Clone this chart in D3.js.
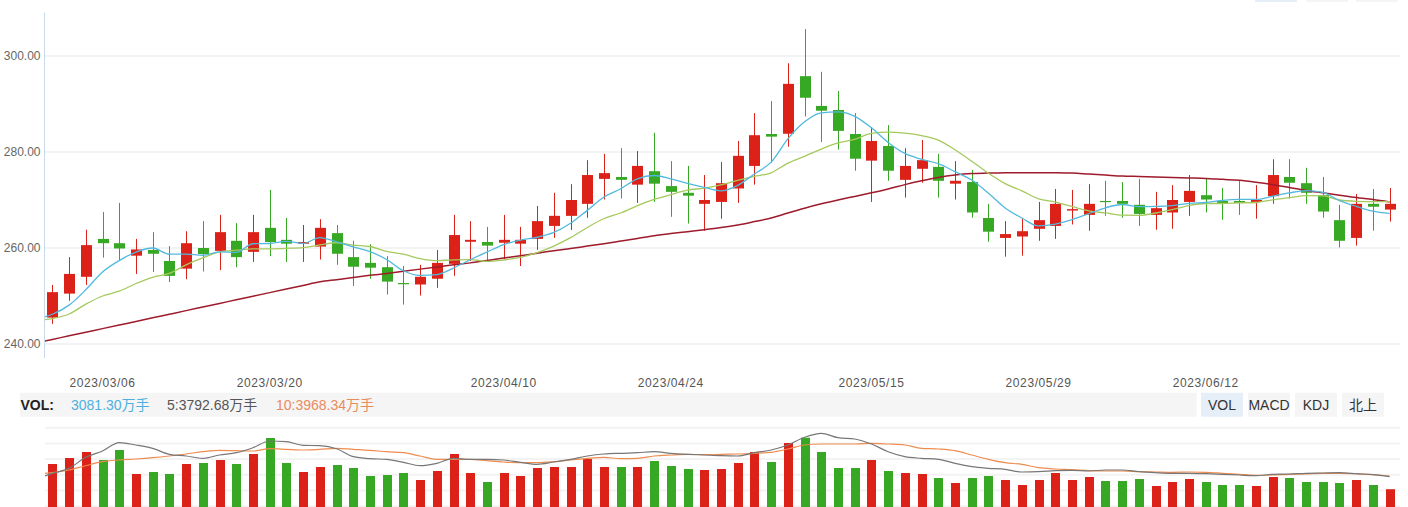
<!DOCTYPE html>
<html><head><meta charset="utf-8">
<script src="https://cdn.jsdelivr.net/npm/d3@7"></script>
<style>html,body{margin:0;padding:0;background:#fff;overflow:hidden}svg{display:block}</style>
</head><body><svg id="c" width="1408" height="507"></svg>
<script>
const dates = ["2023/03/01","2023/03/02","2023/03/03","2023/03/06","2023/03/07","2023/03/08","2023/03/09","2023/03/10","2023/03/13","2023/03/14","2023/03/15","2023/03/16","2023/03/17","2023/03/20","2023/03/21","2023/03/22","2023/03/23","2023/03/24","2023/03/27","2023/03/28","2023/03/29","2023/03/30","2023/03/31","2023/04/03","2023/04/04","2023/04/06","2023/04/07","2023/04/10","2023/04/11","2023/04/12","2023/04/13","2023/04/14","2023/04/17","2023/04/18","2023/04/19","2023/04/20","2023/04/21","2023/04/24","2023/04/25","2023/04/26","2023/04/27","2023/04/28","2023/05/04","2023/05/05","2023/05/08","2023/05/09","2023/05/10","2023/05/11","2023/05/12","2023/05/15","2023/05/16","2023/05/17","2023/05/18","2023/05/19","2023/05/22","2023/05/23","2023/05/24","2023/05/25","2023/05/26","2023/05/29","2023/05/30","2023/05/31","2023/06/01","2023/06/02","2023/06/05","2023/06/06","2023/06/07","2023/06/08","2023/06/09","2023/06/12","2023/06/13","2023/06/14","2023/06/15","2023/06/16","2023/06/19","2023/06/20","2023/06/21","2023/06/26","2023/06/27","2023/06/28","2023/06/29"];
const tickDates = ["2023/03/06","2023/03/20","2023/04/10","2023/04/24","2023/05/15","2023/05/29","2023/06/12"];
const priceTicks = [240, 260, 280, 300];
const volTicks = [2000, 3000, 4000, 5000, 6000, 7000];

const open = [245.5,250.5,254.0,261.9,261.0,258.4,259.6,257.3,255.7,260.0,259.4,261.5,259.2,264.2,261.7,260.9,260.3,263.1,258.1,256.9,256.0,252.7,252.4,253.6,256.7,261.3,261.25,261.1,260.9,261.9,264.6,266.7,269.2,274.4,274.8,273.2,276.0,272.9,271.5,269.2,269.6,272.4,277.1,283.75,283.8,295.8,289.6,288.75,283.75,278.2,281.25,274.2,276.5,276.9,273.4,273.75,266.25,262.1,262.4,264.0,264.6,267.8,266.9,269.8,269.8,269.0,266.9,267.4,269.6,271.0,269.8,269.8,269.6,270.8,274.8,273.5,271.0,265.8,262.1,269.2,268.0];
const close = [250.8,254.6,260.6,261.0,259.9,259.7,258.8,254.2,261.0,258.75,263.3,258.1,263.3,261.25,260.9,261.25,264.2,258.8,256.1,255.9,253.0,252.5,254.0,256.9,262.7,261.7,260.5,261.7,261.7,265.6,266.7,270.0,275.2,275.6,274.2,277.1,273.4,271.7,270.9,270.0,273.5,279.2,283.5,283.2,294.2,291.3,288.6,284.4,278.6,282.3,276.1,277.1,278.3,274.0,274.0,267.4,263.4,262.9,263.5,265.8,269.2,268.1,269.2,269.6,269.2,267.1,268.3,270.0,271.9,270.1,269.2,269.4,270.0,275.2,273.6,271.5,267.6,261.5,269.2,268.6,269.2];
const high = [252.3,258.1,263.8,267.5,269.4,261.9,263.3,260.4,263.5,265.6,266.9,265.2,266.9,272.1,266.25,264.8,266.0,264.8,261.5,260.8,258.3,256.25,256.5,259.6,266.9,265.6,264.4,266.9,264.4,268.75,271.5,273.3,278.3,279.6,280.8,280.2,284.0,278.1,277.1,275.2,277.9,282.3,288.1,290.6,298.5,305.6,296.7,292.7,288.1,285.2,285.6,280.8,282.5,279.6,278.1,276.25,269.2,265.6,266.25,269.6,272.3,272.1,273.3,274.0,273.75,274.4,271.7,273.1,275.2,274.4,272.5,274.0,273.1,278.5,278.5,276.7,274.8,269.0,271.25,272.3,272.5];
const low = [244.2,249.0,252.3,258.0,257.5,254.6,255.0,252.9,253.5,255.1,255.4,256.0,257.1,258.3,257.1,257.1,257.6,256.5,252.1,253.6,250.3,248.2,250.1,251.7,254.2,257.3,257.5,257.7,256.25,259.6,262.1,263.75,266.3,270.1,270.3,269.4,269.6,266.5,265.1,263.6,266.1,269.4,273.2,277.8,281.1,287.4,282.1,280.5,276.1,269.6,274.0,270.5,273.6,270.5,270.1,266.3,261.3,258.2,258.4,261.5,261.9,264.9,263.6,266.7,266.3,264.6,263.8,264.0,266.7,267.4,265.9,266.9,266.1,269.2,270.3,269.2,266.3,260.1,260.5,263.6,265.5];

// moving averages (value of the trading day before the window first, partly clipped at the axis)
const ma5Prev = 245.2, ma10Prev = 244.9, maLongPrev = 240.2;
const ma5 = [246.2,248.1,251.3,255.0,257.38,259.16,260.0,258.72,258.72,258.49,259.21,259.07,260.89,260.94,261.37,260.96,262.18,261.28,260.25,259.25,257.6,255.26,254.3,254.46,255.82,257.56,259.16,260.7,261.66,262.24,263.24,265.14,267.84,270.62,272.34,274.42,275.1,274.4,273.46,272.62,271.9,273.06,275.42,277.88,282.72,286.28,288.16,288.34,287.42,285.04,282.0,279.7,278.48,277.56,275.9,274.16,271.42,268.34,266.24,264.6,264.96,265.9,267.16,268.38,269.06,268.64,268.68,268.84,269.3,269.48,269.9,270.12,270.12,270.78,271.48,271.94,271.58,269.88,268.68,267.68,267.22];
const ma10 = [245.3,246.25,248.3,250.0,251.0,252.6,253.9,254.7,256.5,257.94,259.19,259.54,259.81,259.83,259.93,260.09,260.63,261.09,260.6,260.31,259.28,258.72,257.79,257.36,257.54,257.58,257.21,257.5,258.06,259.03,260.4,262.15,264.27,266.14,267.29,268.83,270.12,271.12,272.04,272.48,273.16,274.08,274.91,275.67,277.67,279.09,280.61,281.88,282.65,283.88,284.14,283.93,283.41,282.49,280.47,278.08,275.56,273.41,271.9,270.25,269.56,268.66,267.75,267.31,266.83,266.8,267.29,268.0,268.84,269.27,269.27,269.4,269.48,270.04,270.48,270.92,270.85,270.0,269.73,269.68,269.68];
const maLong = [240.95,241.7,242.45,243.2,243.95,244.7,245.45,246.2,246.95,247.7,248.45,249.2,249.95,250.7,251.45,252.2,252.95,253.4,253.85,254.3,254.7,255.15,255.6,256.05,256.5,256.9,257.4,257.9,258.4,258.9,259.45,259.9,260.4,260.9,261.45,262.0,262.55,263.0,263.4,263.8,264.25,264.8,265.5,266.25,267.3,268.3,269.2,270.0,270.75,271.5,272.3,273.2,274.0,274.7,275.2,275.5,275.6,275.7,275.7,275.7,275.7,275.6,275.4,275.2,275.0,274.9,274.8,274.7,274.6,274.5,274.3,274.1,273.7,273.2,272.6,272.0,271.5,271.0,270.5,270.1,269.6];

const vol = [4688,5070,5452,4943,5580,4051,4178,4051,4688,4752,4943,4688,5325,6344,4752,4178,4497,4624,4433,3924,3987,4115,3669,4242,5325,4115,3541,4115,3924,4433,4497,4497,5006,4497,4497,4497,4879,4561,4369,4306,4369,4752,5452,4815,6025,6363,5452,4433,4433,4943,4242,4115,4051,3796,3478,3796,3924,3669,3350,3669,4115,3669,3860,3605,3605,3732,3287,3541,3732,3541,3350,3350,3287,3860,3796,3541,3541,3478,3669,3350,3081.3];
const volMa5Prev = 3700, volMa10Prev = 4050;
const volMa5 = [4095,4414,5114,5516,6044,5898,5688,5305,5197,5051,5261,5407,5726,6153,6108,5879,5853,5662,5153,5025,4987,4796,4579,4732,5051,4987,4987,4942,4796,4668,4815,4987,5197,5324,5369,5407,5471,5369,5305,5261,5216,5197,5407,5579,5898,6388,6643,6363,6280,5961,5471,5153,5051,4987,4732,4516,4414,4350,4178,4197,4261,4286,4242,4305,4305,4197,4134,4095,4095,4070,4032,3987,3942,4032,4051,4095,4114,4134,4070,4006,3879];
const volMa10 = [4134,4305,4579,4834,4942,5006,5089,5197,5324,5471,5560,5535,5516,5662,5624,5579,5624,5688,5624,5560,5471,5407,5197,4987,4987,4987,4898,4815,4770,4770,4834,4942,5051,5114,5025,5051,5197,5261,5305,5280,5305,5324,5369,5433,5643,5898,5961,5961,5961,6006,5961,5898,5688,5643,5535,5261,4987,4770,4668,4452,4369,4325,4261,4242,4242,4197,4178,4159,4178,4159,4095,4032,3968,3987,4032,4051,4095,4095,4070,4006,3923];

const legendVol = "3081.30";
const legendMa5 = "3792.68";
const legendMa10 = "3968.34";
const buttons = ["VOL", "MACD", "KDJ", "北上"];

const RED = "#dc2118", GREEN = "#37a823";
const FONT = '"Liberation Sans", Arial, "Noto Sans CJK SC", sans-serif';
const svg = d3.select("#c").style("font-family", FONT);

const x = d3.scaleBand().domain(dates).range([44, 1398]);
const cx = d => x(d) + x.bandwidth() / 2;
const y = d3.scaleLinear().domain([240, 300]).range([344, 56]);
const yv = d3.scaleLinear().domain([0, 7000]).range([537.6, 427.7]);

const defs = svg.append("defs");
defs.append("clipPath").attr("id", "clipP").append("rect").attr("x", 45).attr("y", 0).attr("width", 1356).attr("height", 360);
defs.append("clipPath").attr("id", "clipV").append("rect").attr("x", 45).attr("y", 420).attr("width", 1356).attr("height", 100);

// partial top buttons (cut off at top)
[[1255, "#e6eef8"], [1306, "#f5f5f5"], [1356, "#f5f5f5"]].forEach(([bx, c]) => {
  svg.append("rect").attr("x", bx).attr("y", -22).attr("width", 42).attr("height", 24).attr("fill", c);
});

// price grid
svg.append("g").selectAll("line").data(priceTicks).join("line")
  .attr("x1", 45).attr("x2", 1400).attr("y1", d => y(d)).attr("y2", d => y(d))
  .attr("stroke", "#f1f3f7").attr("stroke-width", 2);
// y axis
const yAxis = d3.axisLeft(y).tickValues(priceTicks).tickFormat(d3.format(".2f")).tickSize(0).tickPadding(4);
const ga = svg.append("g").attr("transform", "translate(44.5,0)").call(yAxis);
ga.select(".domain").remove();
ga.selectAll("text").attr("font-size", 12).attr("fill", "#666").attr("font-family", FONT);
svg.append("line").attr("x1", 44.5).attr("x2", 44.5).attr("y1", 12.7).attr("y2", 358)
  .attr("stroke", "#c9d8ec").attr("stroke-width", 1);

// candles
const idx = d3.range(dates.length);
const cg = svg.append("g");
const col = i => close[i] >= open[i] ? RED : GREEN;
cg.selectAll("line").data(idx).join("line")
  .attr("x1", i => Math.round(cx(dates[i])) + 0.5).attr("x2", i => Math.round(cx(dates[i])) + 0.5)
  .attr("y1", i => y(high[i])).attr("y2", i => y(low[i]))
  .attr("stroke", col).attr("stroke-width", 1);
cg.selectAll("rect").data(idx).join("rect")
  .attr("x", i => Math.round(cx(dates[i])) + 0.5 - 5.5).attr("width", 11)
  .attr("y", i => y(Math.max(open[i], close[i])))
  .attr("height", i => Math.max(1.2, Math.abs(y(open[i]) - y(close[i]))))
  .attr("fill", col);

// x position including the previous (off-window) day at index -1
const px = i => cx(dates[0]) + i * x.step();
const withPrev = (p, arr) => [[-1, p], ...arr.map((v, i) => [i, v])];

// MA lines
const line = d3.line().x(d => px(d[0])).y(d => y(d[1])).curve(d3.curveMonotoneX);
const lg = svg.append("g").attr("clip-path", "url(#clipP)");
[[maLongPrev, maLong, "#9e1b2b", 1.5], [ma10Prev, ma10, "#a5c95c", 1.3], [ma5Prev, ma5, "#52b9de", 1.3]].forEach(([p, arr, c, w]) => {
  lg.append("path").attr("d", line(withPrev(p, arr))).attr("fill", "none").attr("stroke", c).attr("stroke-width", w);
});

// date labels
svg.append("g").selectAll("text").data(tickDates).join("text")
  .attr("x", d => cx(d)).attr("y", 386.5).attr("text-anchor", "middle")
  .attr("font-size", 12).attr("fill", "#555").style("letter-spacing", "0.6px").text(d => d);

// legend bar
svg.append("rect").attr("x", 20).attr("y", 392.7).attr("width", 1176.7).attr("height", 24).attr("fill", "#f5f5f5");
svg.append("text").attr("x", 20.5).attr("y", 409.5).attr("font-size", 14).attr("font-weight", "bold").attr("fill", "#222").text("VOL:");
svg.append("text").attr("x", 71).attr("y", 409.5).attr("font-size", 14).attr("fill", "#4eb0df").text(legendVol + "万手");
svg.append("text").attr("x", 167).attr("y", 409.5).attr("font-size", 14).attr("fill", "#555").text("5:" + legendMa5 + "万手");
svg.append("text").attr("x", 276).attr("y", 409.5).attr("font-size", 14).attr("fill", "#ea8b5d").text("10:" + legendMa10 + "万手");

// buttons
const bg = svg.append("g").selectAll("g").data(buttons).join("g")
  .attr("transform", (d, i) => `translate(${1201 + i * 47},392.7)`);
bg.append("rect").attr("width", 42).attr("height", 24).attr("fill", (d, i) => i === 0 ? "#e6eef8" : "#f5f5f5");
bg.append("text").attr("x", 21).attr("y", 17).attr("text-anchor", "middle").attr("font-size", 14).attr("fill", "#333").text(d => d);

// volume grid
svg.append("g").selectAll("line").data(volTicks).join("line")
  .attr("x1", 45).attr("x2", 1400).attr("y1", d => yv(d)).attr("y2", d => yv(d))
  .attr("stroke", "#f3f3f3").attr("stroke-width", 2);

// volume bars
svg.append("g").selectAll("rect").data(idx).join("rect")
  .attr("x", i => Math.round(cx(dates[i])) + 0.5 - 4.5).attr("width", 9)
  .attr("y", i => yv(vol[i])).attr("height", i => yv(0) - yv(vol[i]))
  .attr("fill", col);

const vline = d3.line().x(d => px(d[0])).y(d => yv(d[1])).curve(d3.curveMonotoneX);
const vg = svg.append("g").attr("clip-path", "url(#clipV)");
[[volMa10Prev, volMa10, "#ee8c4f"], [volMa5Prev, volMa5, "#777"]].forEach(([p, arr, c]) => {
  vg.append("path").attr("d", vline(withPrev(p, arr))).attr("fill", "none").attr("stroke", c).attr("stroke-width", 1.2);
});
</script></body></html>
